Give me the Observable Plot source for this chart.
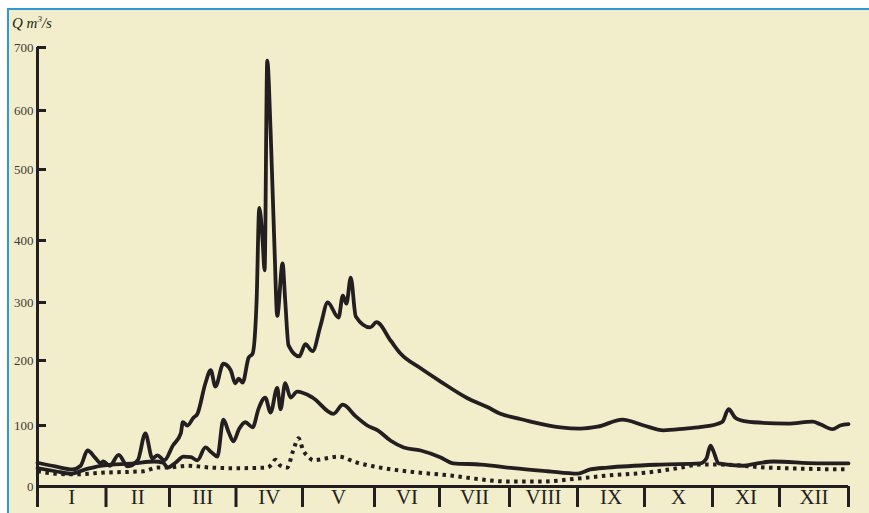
<!DOCTYPE html>
<html>
<head>
<meta charset="utf-8">
<script src="https://cdn.jsdelivr.net/npm/d3@7"></script>
<script src="https://cdn.jsdelivr.net/npm/@observablehq/plot@0.6"></script>
<style>
  html, body { margin: 0; padding: 0; background: #ffffff; }
  #wrap { position: relative; width: 869px; height: 513px; overflow: hidden; }
  #panel { position: absolute; left: 7px; top: 8px; right: -4px; bottom: -4px;
           background: #f2eecb; border-top: 2px solid #2a9bd3; border-left: 2px solid #2a9bd3; }
  #chart { position: absolute; left: 0; top: 0; }
  #unit { position: absolute; left: 12px; top: 14px; font: italic 15px "Liberation Serif", serif; color: #231f20; }
  #unit sup { font-size: 9px; }
</style>
</head>
<body>
<div id="wrap">
  <div id="panel"></div>
  <div id="chart"></div>
  <div id="unit">Q m<sup>3</sup>/s</div>
</div>
<script>
// Month labels (Roman numerals) and month boundaries (in month units)
const months = ["I","II","III","IV","V","VI","VII","VIII","IX","X","XI","XII"];
const monthEdges = [0,1,2,3,4,5,6,7,8,9,10,11,12];
const monthMids = [0.5,1.5,2.5,3.5,4.5,5.5,6.5,7.5,8.5,9.5,10.5,11.5];
const yTicks = [0,100,200,300,400,500,600,700];

// Upper curve (maximum discharge), time in months, Q in m3/s
const upperT = [0,0.26,0.51,0.63,0.73,0.85,0.92,0.96,1.06,1.20,1.34,1.50,1.62,1.73,1.81,1.92,2.05,2.17,2.20,2.27,2.36,2.42,2.54,2.62,2.69,2.81,2.92,2.99,3.04,3.10,3.19,3.25,3.31,3.35,3.40,3.43,3.47,3.52,3.58,3.62,3.70,3.74,3.79,3.95,4.04,4.14,4.25,4.35,4.50,4.56,4.61,4.67,4.74,4.94,5.03,5.25,5.40,5.71,6.01,6.40,6.69,6.87,7.12,7.31,7.75,8.04,8.30,8.67,8.99,9.28,9.60,9.87,10.09,10.15,10.24,10.34,10.42,10.61,11.12,11.48,11.59,11.77,11.88,12.0];
const upperQ = [39,33,28,34,59,46,38,41,34,52,33,43,87,46,51,43,67,87,105,100,112,118,165,185,160,195,185,165,172,166,205,212,303,446,400,352,679,566,384,277,363,303,226,207,228,216,260,300,274,311,298,340,276,257,266,234,212,188,168,142,128,118,111,106,97,95,98,109,100,92,95,98,103,106,125,112,108,105,103,106,102,94,100,102];

// Middle curve (mean discharge)
const middleT = [0,0.26,0.48,0.70,0.92,1.44,1.76,1.90,1.97,2.09,2.21,2.32,2.42,2.54,2.63,2.72,2.81,2.89,2.96,3.05,3.14,3.25,3.34,3.44,3.52,3.62,3.67,3.74,3.82,3.92,4.14,4.43,4.56,4.74,4.90,5.05,5.25,5.45,5.71,6.01,6.20,6.59,7.06,7.56,8.00,8.19,8.45,9.24,9.82,9.91,9.97,10.01,10.09,10.46,10.67,10.91,11.55,12.0];
const middleQ = [30,25,21,28,34,38,41,39,31,39,49,48,43,64,56,49,109,89,74,95,105,97,126,143,120,158,125,165,143,152,143,118,132,114,100,92,75,64,59,48,38,36,30,25,21,28,31,36,38,46,67,59,38,34,38,41,38,38];

// Lower dotted curve (minimum discharge)
const lowerT = [0,0.26,0.53,1.02,1.59,1.81,1.97,2.27,2.62,2.96,3.47,3.55,3.59,3.67,3.77,3.86,3.94,4.01,4.08,4.15,4.32,4.49,4.76,5.14,5.66,6.16,6.49,7.01,7.46,8.00,8.45,9.04,9.49,9.82,10.09,10.82,12.0];
const lowerQ = [25,21,20,23,25,31,31,34,31,30,31,38,44,34,31,59,79,59,49,43,46,49,39,30,23,18,13,8,8,13,18,23,30,36,36,31,28];

const toRows = (ts, qs) => ts.map((t, i) => ({t, q: qs[i]}));
const upper = toRows(upperT, upperQ);
const middle = toRows(middleT, middleQ);
const lower = toRows(lowerT, lowerQ);

const ink = "#231f20";

const chart = Plot.plot({
  width: 869,
  height: 513,
  marginLeft: 37,
  marginRight: 21,
  marginTop: 47,
  marginBottom: 27,
  style: {background: "transparent", fontFamily: "'Liberation Serif', serif", color: ink},
  x: {type: "linear", domain: monthEdges, range: [37,105.5,169,235.5,302,374,439,509,577,644,712,779,848]},
  y: {type: "linear", domain: yTicks, range: [486,425,360,302,240,169,110,47]},
  marks: [
    Plot.axisY(yTicks, {tickSize: 0, tickPadding: 4, fontSize: 13, fill: "#3a3a3a", label: null}),
    Plot.axisY(yTicks.slice(1), {tickSize: 9, dx: 9, strokeWidth: 3, stroke: ink, tickFormat: () => "", label: null}),
    Plot.axisX(monthEdges, {tickSize: 21, strokeWidth: 3, stroke: ink, tickFormat: () => "", label: null}),
    Plot.axisX(monthMids, {tickSize: 0, tickPadding: 3, fontSize: 21, fill: ink, tickFormat: d => months[Math.floor(d)], label: null}),
    Plot.ruleX([0], {y1: 0, y2: 700, stroke: ink, strokeWidth: 3}),
    Plot.ruleY([0], {stroke: ink, strokeWidth: 3}),
    Plot.line(lower, {x: "t", y: "q", curve: "monotone-x", stroke: ink, strokeWidth: 4, strokeDasharray: "3.5,4.5", strokeLinecap: "butt"}),
    Plot.line(middle, {x: "t", y: "q", curve: "monotone-x", stroke: ink, strokeWidth: 3.8}),
    Plot.line(upper, {x: "t", y: "q", curve: "monotone-x", stroke: ink, strokeWidth: 3.8})
  ]
});
document.getElementById("chart").appendChild(chart);
</script>
</body>
</html>
